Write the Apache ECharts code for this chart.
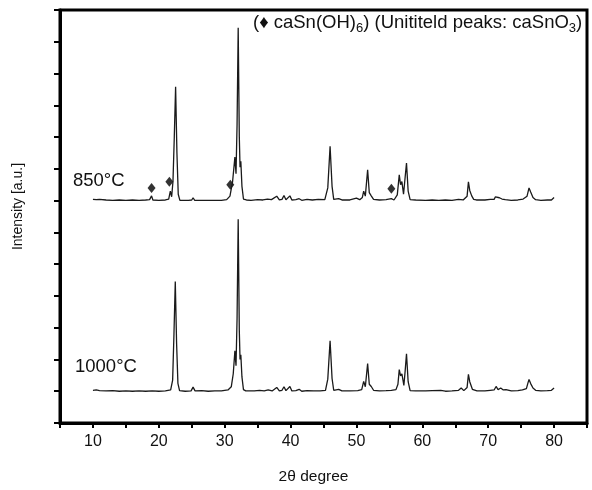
<!DOCTYPE html>
<html>
<head>
<meta charset="utf-8">
<script src="https://cdn.jsdelivr.net/npm/echarts@6/dist/echarts.min.js"></script>
<style>
  html, body { margin: 0; padding: 0; background: #fff; }
  #chart { width: 592px; height: 490px; }
</style>
</head>
<body>
<div id="chart"></div>
<script>
// 2theta labels shown on the x axis
const xLabels = [10, 20, 30, 40, 50, 60, 70, 80];

// baselines of the two patterns (stacked offsets, a.u.)
const offset850 = 7;
const offset1000 = 1;

// [2theta, intensity above baseline]
const trace850 = [
  [10, 0.04], [10.5, 0.03], [11, 0.04], [12, 0.02], [13, 0.01], [14, 0.02], [15, 0.01], [16, 0.02],
  [17, 0.01], [18, 0.02], [18.6, 0.03], [18.9, 0.15], [19.1, 0.02], [20, 0.01], [21, 0.02], [21.5, 0.05],
  [21.75, 0.3], [21.95, 0.12], [22.15, 0.6], [22.35, 2.0], [22.55, 3.58], [22.75, 1.5], [22.95, 0.2],
  [23.2, 0.01], [24.5, 0.01], [25.0, 0.02], [25.2, 0.09], [25.45, 0.01], [26.3, 0.01], [26.6, 0.06],
  [26.9, 0.01], [28, 0.01], [29.5, 0.01], [30.3, 0.03], [30.8, 0.14], [31.2, 0.6], [31.55, 1.37],
  [31.72, 0.85], [31.88, 2.4], [32.05, 5.44], [32.22, 2.0], [32.33, 1.05], [32.45, 1.24], [32.62, 0.45],
  [32.85, 0.05], [33.3, 0.02], [34, 0.01], [35, 0.03], [35.8, 0.02], [36.5, 0.05], [37.1, 0.03],
  [37.9, 0.14], [38.3, 0.02], [38.7, 0.04], [39.0, 0.16], [39.3, 0.03], [39.6, 0.04], [39.9, 0.15],
  [40.2, 0.02], [40.8, 0.03], [41.3, 0.06], [41.7, 0.01], [42.5, 0.04], [43.3, 0.02], [44.2, 0.04],
  [45.2, 0.03], [45.65, 0.4], [46.0, 1.71], [46.3, 0.45], [46.55, 0.04], [47.3, 0.06], [47.8, 0.02],
  [49, 0.02], [50.0, 0.08], [50.5, 0.03], [50.9, 0.1], [51.1, 0.3], [51.35, 0.14], [51.7, 0.97],
  [51.95, 0.25], [52.25, 0.15], [52.6, 0.04], [53.5, 0.02], [54.5, 0.03], [55.3, 0.06], [55.7, 0.02],
  [56.2, 0.18], [56.5, 0.81], [56.7, 0.5], [56.9, 0.6], [57.15, 0.2], [57.4, 0.75], [57.6, 1.18],
  [57.85, 0.3], [58.15, 0.03], [59, 0.02], [60.5, 0.01], [61.5, 0.02], [62.5, 0.01], [63.5, 0.02],
  [64.5, 0.01], [65.5, 0.04], [65.8, 0.09], [66.2, 0.02], [66.8, 0.14], [67.0, 0.59], [67.2, 0.32],
  [67.5, 0.15], [67.8, 0.04], [68.2, 0.02], [69.5, 0.02], [70.3, 0.04], [70.6, 0.07], [70.9, 0.04],
  [71.1, 0.12], [71.4, 0.06], [71.7, 0.09], [72.1, 0.05], [72.6, 0.03], [73.5, 0.01], [74.5, 0.02],
  [75.3, 0.05], [75.6, 0.07], [75.9, 0.14], [76.2, 0.4], [76.45, 0.27], [76.8, 0.1], [77.2, 0.03],
  [78, 0.01], [79, 0.02], [79.6, 0.02], [80, 0.1]
];

const trace1000 = [
  [10, 0.03], [10.5, 0.04], [11, 0.02], [12, 0.01], [13, 0.02], [14, 0], [15, 0.01], [16, 0],
  [17, 0.01], [18, 0], [19, 0.01], [20, 0], [21, 0.01], [21.8, 0.04], [22.1, 0.35], [22.3, 1.8],
  [22.5, 3.45], [22.7, 1.5], [22.9, 0.25], [23.15, 0.02], [24, 0], [24.9, 0.01], [25.2, 0.13],
  [25.5, 0.01], [26.5, 0.02], [27.5, 0], [28.5, 0.01], [29.5, 0.01], [30.5, 0.04], [31.0, 0.14],
  [31.3, 0.55], [31.55, 1.27], [31.72, 0.8], [31.88, 2.3], [32.05, 5.41], [32.22, 1.9], [32.33, 1.0],
  [32.45, 1.15], [32.62, 0.45], [32.85, 0.05], [33.2, 0.01], [34.5, 0.01], [35.3, 0.03], [36, 0.01],
  [36.6, 0.04], [37.2, 0.01], [37.9, 0.12], [38.3, 0.01], [38.7, 0.03], [39.0, 0.14], [39.3, 0.02],
  [39.6, 0.03], [39.9, 0.15], [40.2, 0.01], [40.8, 0.02], [41.3, 0.06], [41.7, 0], [42.5, 0.02],
  [43.5, 0.01], [44.5, 0.01], [45.3, 0.03], [45.65, 0.38], [46.0, 1.59], [46.3, 0.4], [46.55, 0.03],
  [47.3, 0.06], [47.8, 0.01], [49, 0.01], [50.2, 0.02], [50.8, 0.05], [51.1, 0.31], [51.35, 0.14],
  [51.7, 0.87], [51.95, 0.22], [52.25, 0.15], [52.6, 0.03], [53.5, 0.01], [54.5, 0.02], [55.3, 0.03],
  [56.0, 0.05], [56.3, 0.22], [56.5, 0.68], [56.7, 0.48], [56.9, 0.55], [57.2, 0.18], [57.4, 0.65],
  [57.6, 1.18], [57.85, 0.3], [58.15, 0.02], [59, 0.01], [60.5, 0.01], [61.5, 0.02], [62.8, 0.03],
  [63.5, 0], [64.5, 0.01], [65.5, 0.03], [65.9, 0.1], [66.3, 0.02], [66.8, 0.12], [67.0, 0.53],
  [67.2, 0.3], [67.45, 0.3], [67.6, 0.06], [67.9, 0.09], [68.3, 0.01], [69.5, 0.01], [70.3, 0.03],
  [70.6, 0.08], [70.9, 0.04], [71.2, 0.15], [71.5, 0.05], [71.9, 0.1], [72.3, 0.04], [72.7, 0.05],
  [73.5, 0.01], [74.5, 0.02], [75.2, 0.04], [75.5, 0.08], [75.8, 0.08], [76.05, 0.27], [76.2, 0.37],
  [76.45, 0.24], [76.8, 0.1], [77.2, 0.03], [78, 0.01], [79, 0.02], [79.6, 0.03], [80, 0.1]
];

// caSn(OH)6 markers on the 850 pattern
const marks850 = [[18.9, 0.4], [21.6, 0.59], [30.85, 0.5], [55.3, 0.37]];

const shift = (arr, off) => arr.map(p => [p[0], p[1] + off]);

const font = 'Liberation Sans, Arial, Helvetica, sans-serif';

var myChart = echarts.init(document.getElementById('chart'));

myChart.setOption({
  animation: false,
  backgroundColor: '#fff',
  textStyle: {fontFamily: font, color: '#111'},
  grid: {
    left: 60,
    right: 5,
    top: 10,
    bottom: 62,
    show: true,
    borderColor: '#000',
    borderWidth: 3
  },
  xAxis: {
    type: 'value',
    min: 5,
    max: 85,
    interval: 5,
    name: '2θ degree',
    nameLocation: 'middle',
    nameGap: 46,
    nameTextStyle: {fontSize: 15.5, color: '#111', padding: [0, 20, 0, 0]},
    splitLine: {show: false},
    axisLine: {lineStyle: {color: '#000', width: 3}},
    axisTick: {length: 5, lineStyle: {color: '#000', width: 2}},
    axisLabel: {
      fontSize: 16,
      color: '#111',
      margin: 11,
      formatter(val) {
        return xLabels.includes(val) ? String(val) : '';
      }
    }
  },
  yAxis: {
    type: 'value',
    min: 0,
    max: 13,
    interval: 1,
    name: 'Intensity [a.u.]',
    nameLocation: 'middle',
    nameGap: 35,
    nameTextStyle: {fontSize: 14, color: '#111', padding: [0, 0, 0, 20]},
    splitLine: {show: false},
    axisLine: {lineStyle: {color: '#000', width: 3}},
    axisTick: {length: 6, lineStyle: {color: '#000', width: 2}},
    axisLabel: {show: false}
  },
  series: [
    {
      type: 'line',
      data: shift(trace850, offset850),
      showSymbol: false,
      lineStyle: {color: '#1a1a1a', width: 1.3}
    },
    {
      type: 'line',
      data: shift(trace1000, offset1000),
      showSymbol: false,
      lineStyle: {color: '#1a1a1a', width: 1.3}
    },
    {
      type: 'scatter',
      data: shift(marks850, offset850),
      symbol: 'diamond',
      symbolSize: [8, 10],
      itemStyle: {color: '#000'}
    }
  ],
  graphic: [
    {
      type: 'text',
      left: 73,
      top: 171,
      style: {text: '850°C', font: '18.5px ' + font, fill: '#111'}
    },
    {
      type: 'text',
      left: 75,
      top: 357,
      style: {text: '1000°C', font: '18.5px ' + font, fill: '#111'}
    },
    {
      type: 'text',
      left: 253,
      top: 13,
      style: {
        text: '(♦ caSn(OH){sub|6}) (Unititeld peaks: caSnO{sub|3})',
        font: '18.5px ' + font,
        fill: '#111',
        rich: {
          sub: {fontSize: 13, fontFamily: font, fill: '#111', padding: [11, 0, 0, 0]}
        }
      }
    }
  ]
});
</script>
</body>
</html>
